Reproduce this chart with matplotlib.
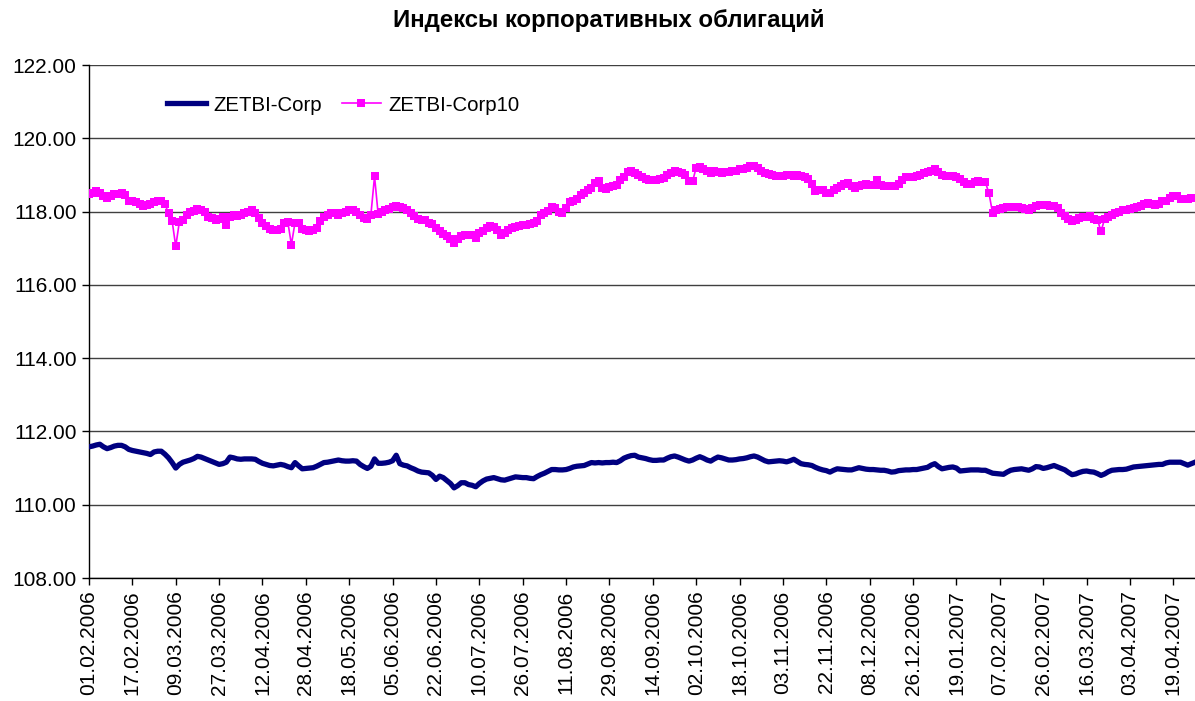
import matplotlib.pyplot as plt
import numpy as np

# tick labels, one every 12 trading days
date_labels = ["01.02.2006", "17.02.2006", "09.03.2006", "27.03.2006", "12.04.2006",
               "28.04.2006", "18.05.2006", "05.06.2006", "22.06.2006", "10.07.2006",
               "26.07.2006", "11.08.2006", "29.08.2006", "14.09.2006", "02.10.2006",
               "18.10.2006", "03.11.2006", "22.11.2006", "08.12.2006", "26.12.2006",
               "19.01.2007", "07.02.2007", "26.02.2007", "16.03.2007", "03.04.2007",
               "19.04.2007"]

corp = [
    111.58, 111.60, 111.63, 111.65, 111.58, 111.53, 111.56, 111.60, 111.62, 111.62, 111.58, 111.51,
    111.48, 111.46, 111.44, 111.42, 111.40, 111.37, 111.44, 111.46, 111.46, 111.38, 111.28, 111.15,
    111.00, 111.10, 111.16, 111.19, 111.22, 111.26, 111.32, 111.30, 111.26, 111.22, 111.18, 111.14,
    111.10, 111.12, 111.16, 111.30, 111.28, 111.25, 111.24, 111.25, 111.25, 111.25, 111.24, 111.18,
    111.13, 111.10, 111.07, 111.06, 111.08, 111.10, 111.08, 111.04, 111.01, 111.15, 111.06, 110.98,
    110.99, 111.00, 111.01, 111.05, 111.10, 111.15, 111.16, 111.18, 111.20, 111.22, 111.20, 111.19,
    111.19, 111.20, 111.19, 111.10, 111.04, 110.99, 111.05, 111.25, 111.13, 111.13, 111.14, 111.16,
    111.20, 111.35, 111.12, 111.08, 111.06, 111.01, 110.97, 110.92, 110.89, 110.88, 110.87, 110.80,
    110.69, 110.78, 110.74, 110.66, 110.58, 110.46, 110.52, 110.60, 110.60, 110.55, 110.53, 110.49,
    110.58, 110.65, 110.70, 110.72, 110.74, 110.71, 110.68, 110.67, 110.70, 110.73, 110.76, 110.75,
    110.74, 110.74, 110.72, 110.71, 110.77, 110.82, 110.86, 110.91, 110.96, 110.96, 110.95, 110.95,
    110.96, 110.99, 111.03, 111.05, 111.06, 111.07, 111.11, 111.15, 111.14, 111.15, 111.14, 111.15,
    111.15, 111.16, 111.15, 111.20, 111.27, 111.31, 111.34, 111.35, 111.30, 111.28, 111.26, 111.23,
    111.21, 111.21, 111.22, 111.22, 111.27, 111.31, 111.33, 111.30, 111.26, 111.22, 111.19, 111.22,
    111.27, 111.31, 111.27, 111.22, 111.19, 111.25, 111.30, 111.28, 111.25, 111.22, 111.22, 111.23,
    111.25, 111.26, 111.28, 111.31, 111.33, 111.30, 111.25, 111.20, 111.17, 111.18, 111.19, 111.20,
    111.19, 111.17, 111.20, 111.24, 111.18, 111.12, 111.10, 111.09, 111.07, 111.02, 110.98, 110.95,
    110.93, 110.89, 110.94, 110.98, 110.97, 110.96, 110.95, 110.95, 110.98, 111.01, 110.99, 110.97,
    110.96, 110.96, 110.95, 110.94, 110.94, 110.92, 110.89, 110.90, 110.93, 110.94, 110.95, 110.95,
    110.96, 110.96, 110.98, 111.00, 111.02, 111.08, 111.12, 111.04, 110.98, 111.00, 111.02, 111.03,
    111.00, 110.92, 110.93, 110.94, 110.95, 110.95, 110.95, 110.94, 110.94, 110.90, 110.86, 110.85,
    110.84, 110.83, 110.89, 110.94, 110.96, 110.97, 110.98, 110.96, 110.94, 110.98, 111.04, 111.03,
    110.99, 111.01, 111.04, 111.07, 111.03, 110.99, 110.95, 110.88, 110.82, 110.84, 110.88, 110.91,
    110.92, 110.90, 110.89, 110.85, 110.80, 110.84, 110.90, 110.94, 110.95, 110.96, 110.96, 110.97,
    111.00, 111.03, 111.04, 111.05, 111.06, 111.07, 111.08, 111.09, 111.10, 111.10, 111.14, 111.16,
    111.16, 111.16, 111.16, 111.12, 111.08, 111.12, 111.16,
]

corp10 = [
    118.48, 118.52, 118.55, 118.50, 118.42, 118.37, 118.42, 118.49, 118.49, 118.50, 118.45, 118.30,
    118.28, 118.27, 118.20, 118.15, 118.17, 118.22, 118.25, 118.28, 118.30, 118.20, 117.96, 117.74,
    117.05, 117.72, 117.78, 117.90, 117.98, 118.02, 118.07, 118.05, 118.00, 117.85, 117.82, 117.76,
    117.80, 117.85, 117.62, 117.85, 117.90, 117.88, 117.90, 117.97, 118.00, 118.03, 117.95, 117.83,
    117.70, 117.60, 117.52, 117.50, 117.50, 117.52, 117.70, 117.72, 117.10, 117.70, 117.70, 117.52,
    117.50, 117.48, 117.50, 117.55, 117.75, 117.85, 117.90, 117.96, 117.95, 117.92, 117.95, 118.00,
    118.05, 118.03, 118.00, 117.92, 117.82, 117.80, 117.92, 118.96, 117.93, 118.00, 118.05, 118.08,
    118.12, 118.15, 118.12, 118.10, 118.05, 117.95, 117.87, 117.80, 117.78, 117.76, 117.70, 117.65,
    117.55, 117.46, 117.40, 117.33, 117.25, 117.13, 117.25, 117.33, 117.35, 117.36, 117.37, 117.28,
    117.42, 117.47, 117.55, 117.60, 117.58, 117.50, 117.37, 117.42, 117.50, 117.55, 117.57, 117.60,
    117.62, 117.64, 117.66, 117.69, 117.75, 117.92, 117.97, 118.02, 118.13, 118.10, 118.00, 117.96,
    118.10, 118.25, 118.30, 118.35, 118.45, 118.50, 118.60, 118.65, 118.78, 118.83, 118.65, 118.62,
    118.68, 118.71, 118.72, 118.87, 118.95, 119.08, 119.10, 119.05, 119.00, 118.93, 118.88, 118.87,
    118.87, 118.86, 118.88, 118.92, 119.00, 119.05, 119.10, 119.08, 119.05, 119.00, 118.83, 118.83,
    119.20, 119.22, 119.15, 119.10, 119.05, 119.10, 119.08, 119.05, 119.07, 119.08, 119.10, 119.12,
    119.15, 119.17, 119.20, 119.24, 119.25, 119.18, 119.10, 119.05, 119.02, 119.00, 118.97, 118.96,
    118.97, 119.00, 119.00, 118.98, 119.00, 118.97, 118.95, 118.90, 118.75, 118.55, 118.58, 118.60,
    118.52, 118.50, 118.58, 118.65, 118.70, 118.75, 118.78, 118.70, 118.65, 118.70, 118.72, 118.74,
    118.72, 118.72, 118.85, 118.72, 118.69, 118.70, 118.69, 118.70, 118.75, 118.85, 118.95, 118.95,
    118.95, 118.96, 119.00, 119.05, 119.08, 119.12, 119.16, 119.08, 119.00, 118.98, 118.96, 118.97,
    118.95, 118.90, 118.80, 118.74, 118.76, 118.80, 118.83, 118.82, 118.80, 118.50, 117.96, 118.05,
    118.08, 118.10, 118.12, 118.13, 118.13, 118.12, 118.10, 118.07, 118.05, 118.10, 118.15, 118.18,
    118.18, 118.17, 118.16, 118.16, 118.10, 117.95, 117.88, 117.80, 117.74, 117.78, 117.83, 117.85,
    117.86, 117.87, 117.80, 117.78, 117.46, 117.80, 117.85, 117.92, 117.96, 118.00, 118.03, 118.05,
    118.07, 118.10, 118.12, 118.15, 118.22, 118.24, 118.20, 118.19, 118.22, 118.28, 118.30, 118.38,
    118.42, 118.42, 118.35, 118.33, 118.35, 118.37, 118.37,
]

plt.rcParams['font.family'] = ['Liberation Sans', 'DejaVu Sans']

fig = plt.figure(figsize=(11.95, 7.01), dpi=100)
ax = fig.add_axes([89/1195, 1-578/701, 1-89/1195, (578-65)/701])

x = np.arange(len(corp))
ax.plot(x, corp, color="#000080", lw=3.8, label="ZETBI-Corp", zorder=3)
ax.plot(x, corp10, color="#FF00FF", lw=1.2, marker="s", markersize=5.3,
        markeredgewidth=0, label="ZETBI-Corp10", zorder=3)

ax.set_xlim(0, len(corp) - 1)
ax.set_ylim(108, 122)
ax.set_yticks(np.arange(108, 123, 2))
ax.set_yticklabels(["%.2f" % v for v in np.arange(108, 123, 2)], fontsize=15)
ax.set_xticks(np.arange(len(date_labels)) * 12)
ax.set_xticklabels(date_labels, rotation=90, fontsize=15)
ax.tick_params(axis="both", direction="out", length=5, width=1, color="black", pad=4)

ax.grid(axis="y", color="#404040", lw=1)
ax.set_axisbelow(True)
for s in ["top", "right"]:
    ax.spines[s].set_visible(False)
for s in ["left", "bottom"]:
    ax.spines[s].set_color("black")
    ax.spines[s].set_linewidth(1)

ax.legend(loc="center left", bbox_to_anchor=(0.054, 0.922), ncol=2, frameon=False,
          fontsize=14.7, handlelength=1.9, columnspacing=1.0, handletextpad=0.35)

fig.text(609/1195, 0.971, "Индексы корпоративных облигаций", ha="center", va="center",
         fontsize=17.3, fontweight="bold")

fig.savefig("out.png", dpi=100)
